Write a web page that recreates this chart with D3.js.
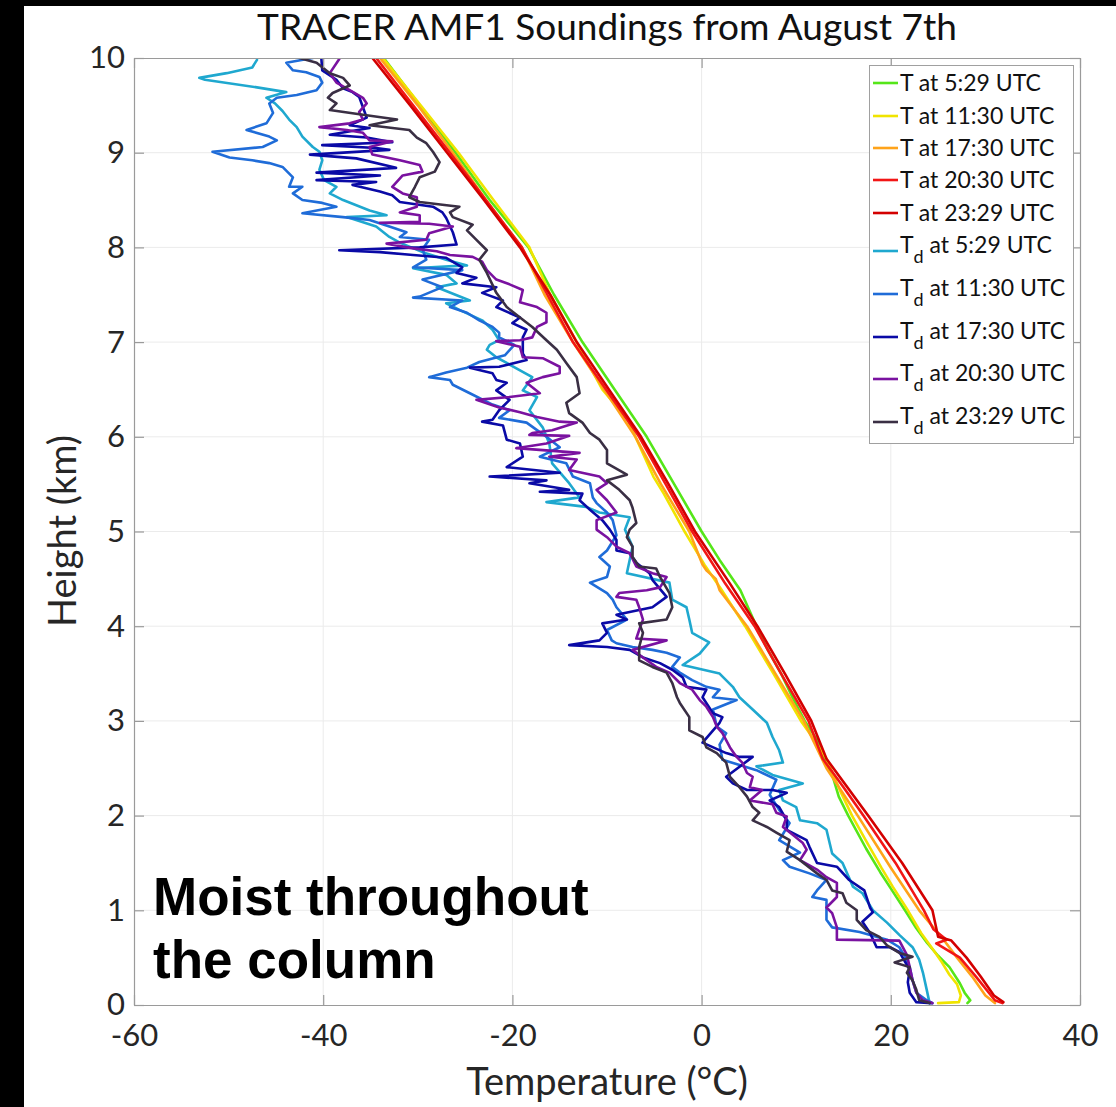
<!DOCTYPE html>
<html><head><meta charset="utf-8">
<script src="https://cdn.jsdelivr.net/npm/d3@7"></script>
<style>body{margin:0;background:#fff;overflow:hidden}</style>
</head><body>
<svg id="chart" width="1116" height="1107"></svg>
<script>
// ---------- data ----------
const titleText = "TRACER AMF1 Soundings from August 7th";
const xLabel = "Temperature (°C)";
const yLabel = "Height (km)";
const xTicks = [-60, -40, -20, 0, 20, 40];
const yTicks = [0, 1, 2, 3, 4, 5, 6, 7, 8, 9, 10];
const seriesTimes = ["5:29", "11:30", "17:30", "20:30", "23:29", "5:29", "11:30", "17:30", "20:30", "23:29"];
const seriesKinds = ["T", "T", "T", "T", "T", "Td", "Td", "Td", "Td", "Td"];
const seriesColors = ["#55e619", "#f0e400", "#ffa31a", "#f21616", "#d30000",
                      "#1fa8cf", "#1f6cd8", "#0a0aa6", "#7a12a0", "#3a2f44"];

// [temperature °C, height km]
const tAt0529 = [[28.1,0.02],[28.4,0.05],[27.8,0.13],[27.3,0.23],[26.2,0.40],[25.0,0.52],[23.8,0.66],[22.7,0.81],[21.5,1.0],[20.2,1.2],[18.9,1.4],[17.4,1.65],[15.5,2.0],[14.5,2.2],[13.9,2.4],[13.0,2.6],[12.2,2.8],[10.9,3.0],[9.6,3.25],[8.4,3.5],[7.0,3.75],[5.8,4.0],[4.1,4.38],[1.9,4.7],[0.0,5.0],[-2.9,5.5],[-5.8,6.0],[-9.2,6.5],[-12.6,7.0],[-15.6,7.5],[-18.3,8.0],[-22.4,8.5],[-26.0,9.0],[-29.8,9.5],[-33.6,10.0]];
const tAt1130 = [[25.0,0.02],[27.2,0.03],[27.4,0.10],[27.0,0.22],[26.2,0.32],[25.4,0.45],[24.5,0.58],[23.2,0.76],[21.8,1.0],[20.2,1.25],[19.0,1.45],[17.3,1.75],[15.9,2.0],[14.7,2.25],[13.2,2.6],[11.9,2.8],[10.5,3.0],[7.6,3.5],[4.6,4.0],[2.0,4.4],[0.3,4.65],[-1.8,5.0],[-4.0,5.4],[-5.1,5.58],[-7.0,6.0],[-7.8,6.18],[-10.5,6.5],[-13.2,7.0],[-16.0,7.5],[-18.2,8.0],[-22.0,8.5],[-25.7,9.0],[-29.7,9.5],[-33.7,10.0]];
const tAt1730 = [[31.0,0.02],[30.0,0.1],[28.6,0.3],[27.0,0.5],[25.5,0.7],[23.0,1.0],[20.0,1.45],[16.5,2.0],[13.2,2.5],[10.8,3.0],[7.8,3.5],[4.8,4.0],[1.9,4.38],[1.5,4.5],[0.5,4.59],[0.1,4.65],[-1.3,5.0],[-4.3,5.5],[-7.0,6.0],[-10.3,6.5],[-13.6,7.0],[-16.6,7.5],[-19.0,8.0],[-22.8,8.5],[-26.3,9.0],[-30.0,9.5],[-34.0,10.0]];
const tAt2030 = [[31.8,0.02],[31.0,0.05],[29.0,0.3],[27.3,0.5],[24.8,0.65],[25.9,0.69],[24.5,0.8],[23.5,1.0],[20.5,1.5],[17.1,2.0],[15.0,2.3],[12.8,2.6],[11.3,3.0],[8.4,3.5],[5.6,4.0],[2.5,4.45],[-1.0,5.0],[-3.8,5.5],[-6.6,6.0],[-10.1,6.5],[-13.6,7.0],[-16.3,7.5],[-19.0,8.0],[-22.8,8.5],[-26.6,9.0],[-30.5,9.5],[-34.4,10.0]];
const tAt2329 = [[31.9,0.03],[30.9,0.1],[29.5,0.3],[28.0,0.5],[26.4,0.68],[25.0,0.72],[24.4,1.0],[21.2,1.5],[17.6,2.0],[13.2,2.6],[11.6,3.0],[8.8,3.5],[5.9,4.0],[3.0,4.45],[-0.7,5.0],[-3.5,5.5],[-6.4,6.0],[-9.8,6.5],[-13.2,7.0],[-16.0,7.5],[-19.2,8.0],[-23.0,8.5],[-26.9,9.0],[-30.8,9.5],[-34.8,10.0]];

const tdAt0529 = [[-47.0,9.98],[-47.5,9.90],[-50.2,9.84],[-53.1,9.79],[-52.5,9.77],[-47.0,9.69],[-43.9,9.64],[-46.0,9.58],[-45.1,9.52],[-44.3,9.44],[-43.6,9.35],[-42.8,9.27],[-42.2,9.17],[-41.1,9.06],[-40.4,9.01],[-40.1,8.92],[-40.4,8.82],[-39.9,8.71],[-38.6,8.64],[-39.3,8.57],[-37.9,8.50],[-35.1,8.39],[-33.3,8.34],[-37.5,8.32],[-34.4,8.22],[-33.0,8.11],[-31.9,8.05],[-29.5,7.95],[-27.0,7.87],[-24.8,7.81],[-30.5,7.78],[-27.0,7.71],[-25.9,7.62],[-28.0,7.58],[-24.5,7.44],[-27.0,7.41],[-25.6,7.34],[-23.2,7.23],[-22.1,7.13],[-21.4,7.02],[-22.4,6.97],[-22.7,6.92],[-21.7,6.84],[-20.6,6.78],[-17.9,6.63],[-18.9,6.49],[-17.4,6.42],[-18.2,6.28],[-16.8,6.10],[-16.1,5.93],[-15.8,5.72],[-14.0,5.51],[-12.9,5.36],[-16.4,5.31],[-12.2,5.26],[-10.8,5.20],[-7.6,5.15],[-8.1,5.02],[-7.3,4.84],[-7.9,4.56],[-3.4,4.46],[-3.1,4.28],[-1.6,4.20],[-1.3,4.07],[-1.0,3.93],[0.8,3.83],[-0.2,3.71],[-2.0,3.59],[1.9,3.50],[3.3,3.36],[4.0,3.25],[5.4,3.12],[6.9,2.98],[7.5,2.83],[8.2,2.69],[8.6,2.56],[5.8,2.52],[7.5,2.43],[10.7,2.34],[8.2,2.27],[8.6,2.16],[10.0,2.09],[10.4,1.95],[12.2,1.92],[13.2,1.85],[13.8,1.60],[14.9,1.50],[16.0,1.25],[17.0,1.18],[18.1,1.00],[19.6,0.87],[20.9,0.74],[22.3,0.61],[23.0,0.48],[23.4,0.34],[23.8,0.16],[24.1,0.02]];
const tdAt1130 = [[-41.1,10.0],[-43.9,9.95],[-43.2,9.87],[-41.8,9.85],[-40.4,9.80],[-40.1,9.74],[-40.7,9.66],[-42.8,9.61],[-44.9,9.58],[-45.7,9.52],[-45.3,9.42],[-46.0,9.31],[-48.1,9.24],[-45.7,9.17],[-44.9,9.13],[-46.4,9.06],[-51.7,9.01],[-49.9,8.95],[-47.5,8.92],[-45.7,8.89],[-44.3,8.85],[-43.2,8.74],[-43.6,8.64],[-42.2,8.64],[-43.2,8.57],[-42.2,8.50],[-40.1,8.47],[-38.6,8.43],[-42.2,8.36],[-37.9,8.32],[-35.1,8.29],[-33.0,8.22],[-31.2,8.16],[-31.9,8.11],[-28.8,8.08],[-29.5,7.98],[-29.1,7.87],[-30.5,7.79],[-25.3,7.76],[-29.5,7.66],[-27.4,7.58],[-29.8,7.48],[-30.5,7.47],[-25.3,7.44],[-26.6,7.37],[-24.8,7.31],[-23.5,7.23],[-22.1,7.16],[-21.4,7.10],[-21.4,7.05],[-19.8,6.97],[-20.8,6.86],[-23.5,6.79],[-24.8,6.73],[-27.0,6.68],[-28.8,6.63],[-26.6,6.60],[-26.3,6.55],[-24.5,6.46],[-22.1,6.34],[-20.3,6.28],[-21.4,6.20],[-18.5,6.15],[-17.4,6.07],[-16.4,6.00],[-15.0,5.89],[-17.1,5.79],[-14.3,5.72],[-13.6,5.58],[-11.8,5.51],[-11.5,5.36],[-11.1,5.30],[-10.0,5.20],[-9.4,5.12],[-9.0,4.96],[-10.0,4.80],[-10.8,4.73],[-9.7,4.63],[-10.0,4.52],[-11.8,4.46],[-10.0,4.35],[-9.4,4.28],[-9.0,4.20],[-7.9,4.07],[-10.0,3.96],[-9.5,3.85],[-9.0,3.82],[-7.3,3.78],[-5.2,3.75],[-3.7,3.72],[-2.3,3.67],[-3.1,3.57],[-2.3,3.51],[-1.0,3.43],[0.5,3.36],[1.9,3.33],[1.2,3.25],[3.7,3.22],[1.2,3.12],[1.6,2.94],[2.6,2.87],[1.9,2.75],[2.2,2.59],[5.8,2.48],[7.9,2.38],[7.2,2.22],[8.2,2.06],[9.3,1.92],[8.2,1.74],[10.4,1.61],[8.6,1.53],[9.3,1.46],[11.4,1.39],[13.2,1.32],[12.2,1.21],[11.7,1.14],[13.2,1.11],[13.2,0.90],[13.8,0.82],[16.7,0.77],[19.6,0.69],[20.9,0.61],[21.5,0.51],[22.0,0.40],[22.3,0.26],[22.7,0.13],[23.8,0.05],[24.4,0.02]];
const tdAt1730 = [[-40.2,10.0],[-40.1,9.87],[-38.6,9.77],[-37.9,9.68],[-36.9,9.64],[-36.2,9.59],[-35.8,9.48],[-35.4,9.37],[-37.2,9.29],[-35.1,9.26],[-39.3,9.19],[-35.4,9.16],[-32.7,9.11],[-40.1,9.08],[-34.4,9.05],[-33.0,9.03],[-41.4,8.98],[-36.5,8.94],[-32.3,8.84],[-40.7,8.79],[-34.0,8.76],[-40.7,8.71],[-34.4,8.69],[-36.9,8.66],[-34.0,8.59],[-32.7,8.55],[-31.9,8.48],[-28.4,8.43],[-27.4,8.37],[-27.0,8.31],[-26.3,8.16],[-25.9,8.03],[-29.8,8.00],[-38.3,7.97],[-34.0,7.95],[-30.5,7.92],[-27.0,7.89],[-25.3,7.79],[-25.9,7.73],[-23.8,7.68],[-25.3,7.62],[-21.7,7.58],[-23.2,7.52],[-21.0,7.44],[-21.7,7.37],[-19.2,7.26],[-20.0,7.20],[-18.5,7.13],[-18.9,7.05],[-18.9,6.88],[-18.5,6.81],[-21.4,6.74],[-24.5,6.73],[-22.1,6.67],[-21.7,6.60],[-20.6,6.57],[-21.7,6.49],[-20.3,6.39],[-21.4,6.28],[-22.1,6.18],[-23.2,6.16],[-21.0,6.12],[-20.6,5.97],[-19.2,5.93],[-18.9,5.79],[-20.6,5.68],[-15.0,5.62],[-22.4,5.58],[-16.4,5.54],[-18.2,5.51],[-14.0,5.44],[-17.1,5.42],[-12.6,5.40],[-12.9,5.33],[-11.8,5.23],[-10.5,5.12],[-9.7,5.02],[-9.0,4.91],[-9.0,4.80],[-7.6,4.77],[-6.9,4.67],[-5.5,4.56],[-5.2,4.49],[-3.7,4.31],[-5.2,4.20],[-6.6,4.17],[-9.0,4.12],[-7.9,4.07],[-10.5,4.03],[-10.0,3.93],[-10.8,3.85],[-14.0,3.80],[-10.0,3.78],[-7.6,3.75],[-6.2,3.67],[-4.4,3.61],[-3.1,3.54],[-2.0,3.46],[-1.6,3.36],[0.5,3.33],[0.1,3.25],[1.2,3.08],[2.2,3.04],[1.9,2.98],[0.1,2.77],[2.6,2.66],[4.0,2.62],[5.4,2.62],[2.6,2.41],[3.3,2.34],[4.8,2.27],[7.5,2.27],[9.0,2.24],[7.2,2.16],[8.2,2.09],[9.0,1.95],[9.0,1.85],[11.1,1.74],[11.4,1.67],[12.2,1.50],[14.3,1.46],[15.6,1.32],[17.2,1.21],[17.8,1.03],[18.1,0.98],[17.0,0.88],[17.8,0.76],[18.5,0.61],[19.9,0.61],[20.9,0.56],[22.0,0.37],[21.8,0.24],[22.0,0.13],[22.7,0.03],[24.3,0.02]];
const tdAt2030 = [[-38.3,9.99],[-39.3,9.84],[-38.6,9.74],[-37.2,9.66],[-35.8,9.58],[-35.4,9.52],[-36.2,9.43],[-35.8,9.35],[-37.2,9.31],[-40.4,9.27],[-37.5,9.24],[-35.8,9.21],[-35.1,9.13],[-32.7,9.12],[-35.1,9.06],[-34.8,8.98],[-31.9,8.92],[-29.8,8.87],[-29.5,8.80],[-31.6,8.76],[-32.7,8.64],[-31.6,8.57],[-30.1,8.53],[-30.1,8.43],[-31.9,8.37],[-29.8,8.34],[-29.8,8.27],[-34.0,8.26],[-28.8,8.25],[-26.3,8.22],[-28.8,8.15],[-29.1,8.08],[-33.3,8.04],[-30.5,7.99],[-28.0,7.96],[-26.6,7.92],[-24.2,7.90],[-23.2,7.85],[-22.7,7.76],[-21.7,7.66],[-20.3,7.61],[-18.9,7.55],[-19.2,7.42],[-17.4,7.37],[-16.4,7.31],[-16.4,7.21],[-17.4,7.16],[-17.9,7.05],[-19.2,7.02],[-21.7,7.01],[-19.2,6.95],[-18.9,6.84],[-16.8,6.83],[-15.0,6.74],[-15.0,6.67],[-16.8,6.63],[-18.5,6.57],[-17.1,6.46],[-20.3,6.42],[-23.8,6.39],[-21.4,6.31],[-19.2,6.26],[-17.4,6.21],[-15.0,6.16],[-13.2,6.15],[-15.8,6.07],[-17.9,6.04],[-18.2,6.02],[-14.0,6.01],[-16.4,5.93],[-19.6,5.88],[-12.9,5.83],[-16.1,5.79],[-13.2,5.76],[-14.0,5.65],[-10.8,5.58],[-10.0,5.51],[-11.1,5.44],[-10.0,5.33],[-9.0,5.20],[-11.1,5.12],[-11.1,5.02],[-10.0,4.94],[-9.0,4.84],[-7.6,4.77],[-6.9,4.63],[-5.2,4.56],[-3.7,4.52],[-4.4,4.41],[-5.8,4.38],[-8.7,4.35],[-9.0,4.31],[-6.9,4.28],[-6.6,4.20],[-6.2,4.07],[-6.6,3.96],[-6.9,3.87],[-3.7,3.85],[-7.3,3.75],[-6.2,3.67],[-4.8,3.57],[-3.4,3.51],[-2.3,3.40],[-1.0,3.33],[-0.2,3.22],[0.5,3.15],[1.2,3.04],[1.6,2.94],[2.2,2.87],[3.0,2.72],[3.7,2.62],[4.3,2.56],[4.8,2.45],[5.4,2.41],[5.1,2.30],[6.4,2.27],[5.1,2.16],[7.5,2.12],[7.9,2.03],[9.0,1.99],[8.6,1.88],[9.6,1.80],[10.7,1.71],[11.1,1.64],[10.4,1.53],[12.2,1.43],[13.2,1.35],[14.3,1.29],[14.3,1.14],[13.2,1.03],[13.8,0.97],[14.3,0.82],[14.3,0.69],[20.9,0.68],[21.7,0.53],[22.0,0.40],[22.3,0.26],[22.7,0.13],[23.4,0.05],[24.4,0.02]];
const tdAt2329 = [[-42.5,10.0],[-40.7,9.95],[-39.3,9.84],[-37.9,9.79],[-37.2,9.71],[-39.0,9.63],[-39.5,9.58],[-38.6,9.52],[-39.3,9.45],[-35.8,9.40],[-32.2,9.35],[-35.1,9.29],[-30.9,9.24],[-30.1,9.16],[-29.1,9.10],[-28.4,9.01],[-27.7,8.90],[-28.2,8.80],[-29.8,8.74],[-30.3,8.64],[-30.9,8.53],[-29.8,8.48],[-27.4,8.45],[-25.6,8.43],[-26.6,8.37],[-26.3,8.32],[-24.2,8.24],[-24.8,8.18],[-23.8,8.08],[-22.7,7.97],[-23.5,7.87],[-22.7,7.73],[-21.7,7.52],[-20.6,7.37],[-19.2,7.26],[-17.9,7.16],[-16.4,7.02],[-15.3,6.92],[-14.3,6.78],[-13.2,6.63],[-12.9,6.46],[-14.3,6.36],[-14.0,6.25],[-12.6,6.15],[-11.8,6.04],[-10.8,5.97],[-10.0,5.86],[-10.0,5.72],[-7.9,5.60],[-10.0,5.54],[-8.7,5.44],[-7.6,5.33],[-7.3,5.25],[-6.9,5.09],[-7.6,5.02],[-7.9,4.94],[-7.3,4.84],[-7.3,4.73],[-6.6,4.63],[-4.8,4.61],[-4.4,4.52],[-3.4,4.35],[-3.1,4.20],[-3.7,4.07],[-6.6,4.03],[-6.2,3.93],[-6.6,3.78],[-6.6,3.64],[-5.2,3.57],[-3.7,3.51],[-3.1,3.40],[-2.6,3.25],[-2.3,3.19],[-1.3,3.04],[-1.3,2.90],[0.1,2.83],[0.5,2.72],[1.6,2.66],[2.6,2.56],[3.0,2.41],[4.0,2.30],[4.8,2.20],[5.4,2.09],[6.1,2.03],[5.4,1.95],[6.9,1.88],[7.9,1.82],[9.3,1.74],[9.0,1.62],[10.4,1.53],[12.2,1.39],[13.2,1.32],[13.8,1.21],[14.9,1.18],[15.3,1.08],[16.4,1.00],[16.4,0.90],[17.4,0.79],[18.8,0.72],[19.6,0.63],[20.9,0.55],[22.3,0.51],[20.4,0.45],[22.0,0.40],[21.7,0.34],[22.3,0.26],[22.7,0.16],[23.0,0.05],[24.1,0.02]];

const allSeries = [tAt0529, tAt1130, tAt1730, tAt2030, tAt2329, tdAt0529, tdAt1130, tdAt1730, tdAt2030, tdAt2329];

// ---------- layout ----------
const svg = d3.select("#chart");
const W = 1116, H = 1107;
const plot = {left: 134, right: 1080, top: 58, bottom: 1005};
const x = d3.scaleLinear().domain([-60, 40]).range([plot.left, plot.right]);
const y = d3.scaleLinear().domain([0, 10]).range([plot.bottom, plot.top]);
const FONT = "Lato, 'Open Sans', sans-serif";

svg.append("rect").attr("width", W).attr("height", H).attr("fill", "#fff");
// black framing strips from the screenshot
svg.append("rect").attr("x", 0).attr("y", 0).attr("width", 24).attr("height", H).attr("fill", "#000");
svg.append("rect").attr("x", 0).attr("y", 0).attr("width", W).attr("height", 6).attr("fill", "#000");

// grid
const grid = svg.append("g");
grid.selectAll(".gx").data(xTicks.slice(1, -1)).join("line")
  .attr("x1", d => x(d)).attr("x2", d => x(d)).attr("y1", plot.top).attr("y2", plot.bottom)
  .attr("stroke", "#ebebeb").attr("stroke-width", 1);
grid.selectAll(".gy").data(yTicks.slice(1, -1)).join("line")
  .attr("y1", d => y(d)).attr("y2", d => y(d)).attr("x1", plot.left).attr("x2", plot.right)
  .attr("stroke", "#ebebeb").attr("stroke-width", 1);

// series
const line = d3.line().x(d => x(d[0])).y(d => y(d[1]));
svg.append("clipPath").attr("id", "clip").append("rect")
  .attr("x", plot.left).attr("y", plot.top).attr("width", plot.right - plot.left).attr("height", plot.bottom - plot.top);
const lines = svg.append("g").attr("clip-path", "url(#clip)");
allSeries.forEach((s, i) => {
  lines.append("path").datum(s).attr("d", line)
    .attr("fill", "none").attr("stroke", seriesColors[i])
    .attr("stroke-width", 2.6).attr("stroke-linejoin", "round").attr("stroke-linecap", "round");
});

// axes (box with inward ticks)
const axisColor = "#9a9a9a";
function styleAxis(g) {
  g.select(".domain").attr("stroke", axisColor).attr("stroke-width", 1.2);
  g.selectAll(".tick line").attr("stroke", axisColor).attr("stroke-width", 1.2);
  g.selectAll("text").attr("font-family", FONT).attr("font-size", 31).attr("fill", "#262626");
}
svg.append("g").attr("transform", `translate(0,${plot.bottom})`)
  .call(d3.axisBottom(x).tickValues(xTicks).tickSizeInner(-10).tickSizeOuter(0).tickPadding(19).tickFormat(d3.format("d")))
  .call(styleAxis);
svg.append("g").attr("transform", `translate(0,${plot.top})`)
  .call(d3.axisTop(x).tickValues(xTicks).tickSizeInner(-10).tickSizeOuter(0).tickFormat(""))
  .call(styleAxis);
svg.append("g").attr("transform", `translate(${plot.left},0)`)
  .call(d3.axisLeft(y).tickValues(yTicks).tickSizeInner(-10).tickSizeOuter(0).tickPadding(9).tickFormat(d3.format("d")))
  .call(styleAxis);
svg.append("g").attr("transform", `translate(${plot.right},0)`)
  .call(d3.axisRight(y).tickValues(yTicks).tickSizeInner(-10).tickSizeOuter(0).tickFormat(""))
  .call(styleAxis);
// use a plain hyphen like the original
svg.selectAll(".tick text").text(function() { return d3.select(this).text().replace("−", "-"); });

// axis labels
svg.append("text").attr("x", 607).attr("y", 1095)
  .attr("text-anchor", "middle").attr("font-family", FONT).attr("font-size", 38).attr("fill", "#262626")
  .text(xLabel);
svg.append("text").attr("transform", `translate(76,531) rotate(-90)`)
  .attr("text-anchor", "middle").attr("font-family", FONT).attr("font-size", 38).attr("fill", "#262626")
  .text(yLabel);

// title
svg.append("text").attr("x", 607).attr("y", 40).attr("text-anchor", "middle")
  .attr("font-family", FONT).attr("font-size", 37).attr("fill", "#111")
  .text(titleText);

// legend
const lg = svg.append("g");
lg.append("rect").attr("x", 869.5).attr("y", 65.5).attr("width", 204).attr("height", 378)
  .attr("fill", "#fff").attr("stroke", "#a0a0a0").attr("stroke-width", 1);
const rowY = [83, 116, 148, 180, 213, 245, 288, 331, 373, 416];
seriesKinds.forEach((k, i) => {
  const cy = rowY[i];
  const ly = k === "T" ? cy : cy + 6;
  lg.append("line").attr("x1", 873).attr("x2", 898).attr("y1", ly).attr("y2", ly)
    .attr("stroke", seriesColors[i]).attr("stroke-width", 2.6);
  const t = lg.append("text").attr("x", 900).attr("y", cy + 8)
    .attr("font-family", FONT).attr("font-size", 23).attr("fill", "#111");
  if (k === "T") {
    t.text(`T at ${seriesTimes[i]} UTC`);
  } else {
    t.append("tspan").text("T");
    t.append("tspan").attr("dy", 10).attr("font-size", 18).text("d");
    t.append("tspan").attr("dy", -10).text(` at ${seriesTimes[i]} UTC`);
  }
});

// annotation
const ann = svg.append("text").attr("font-family", "'Liberation Sans', Arial, sans-serif")
  .attr("font-weight", "bold").attr("font-size", 53).attr("fill", "#000");
ann.append("tspan").attr("x", 153).attr("y", 915).text("Moist throughout");
ann.append("tspan").attr("x", 153).attr("y", 978).text("the column");
</script>
</body></html>
